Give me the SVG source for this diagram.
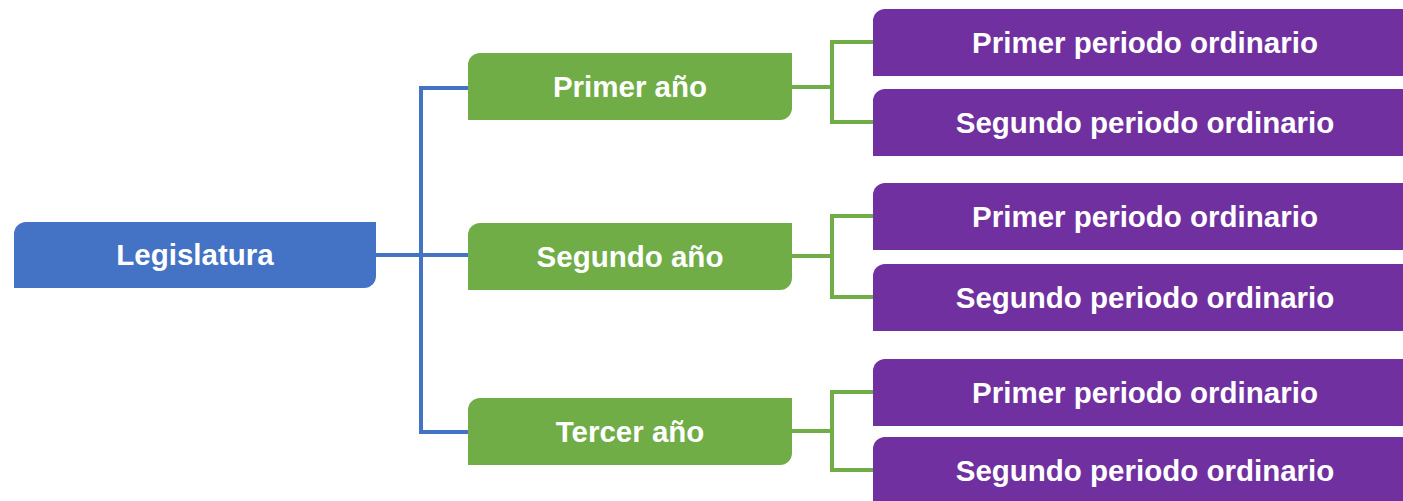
<svg xmlns="http://www.w3.org/2000/svg" width="1403" height="501" viewBox="0 0 1403 501">
<style>
.t{font-family:"Liberation Sans",Arial,sans-serif;font-weight:bold;font-size:29.5px;fill:#fff;text-anchor:middle}
.blue{fill:#4472C4}.green{fill:#70AD47}.purple{fill:#7030A0}
.cb{fill:none;stroke:#4472C4;stroke-width:4}
.cg{fill:none;stroke:#70AD47;stroke-width:4}
</style>
<rect width="1403" height="501" fill="#fff"/>
<g id="connectors">
<path class="cb" d="M469,88 H421 V432 H469 M376,255 H469"/>
<path class="cg" d="M792,87 H832 M873,42 H832 V122 H873"/>
<path class="cg" d="M792,256 H832 M873,216 H832 V297 H873"/>
<path class="cg" d="M792,431 H832 M873,392 H832 V470 H873"/>
</g>
<g id="legislatura">
<path class="blue" d="M26,222 H376 V276 A12,12 0 0 1 364,288 H14 V234 A12,12 0 0 1 26,222 Z"/>
<text class="t" x="195" y="265">Legislatura</text>
</g>
<g id="primer-anio">
<path class="green" d="M480,53 H792 V108 A12,12 0 0 1 780,120 H468 V65 A12,12 0 0 1 480,53 Z"/>
<text class="t" x="630" y="97">Primer año</text>
</g>
<g id="segundo-anio">
<path class="green" d="M480,223 H792 V278 A12,12 0 0 1 780,290 H468 V235 A12,12 0 0 1 480,223 Z"/>
<text class="t" x="630" y="267">Segundo año</text>
</g>
<g id="tercer-anio">
<path class="green" d="M480,398 H792 V453 A12,12 0 0 1 780,465 H468 V410 A12,12 0 0 1 480,398 Z"/>
<text class="t" x="630" y="442">Tercer año</text>
</g>
<g id="p1-primer">
<path class="purple" d="M885,9 H1416 V64 A12,12 0 0 1 1404,76 H873 V21 A12,12 0 0 1 885,9 Z"/>
<text class="t" x="1145" y="53">Primer periodo ordinario</text>
</g>
<g id="p1-segundo">
<path class="purple" d="M885,89 H1416 V144 A12,12 0 0 1 1404,156 H873 V101 A12,12 0 0 1 885,89 Z"/>
<text class="t" x="1145" y="133">Segundo periodo ordinario</text>
</g>
<g id="p2-primer">
<path class="purple" d="M885,183 H1416 V238 A12,12 0 0 1 1404,250 H873 V195 A12,12 0 0 1 885,183 Z"/>
<text class="t" x="1145" y="227">Primer periodo ordinario</text>
</g>
<g id="p2-segundo">
<path class="purple" d="M885,264 H1416 V319 A12,12 0 0 1 1404,331 H873 V276 A12,12 0 0 1 885,264 Z"/>
<text class="t" x="1145" y="308">Segundo periodo ordinario</text>
</g>
<g id="p3-primer">
<path class="purple" d="M885,359 H1416 V414 A12,12 0 0 1 1404,426 H873 V371 A12,12 0 0 1 885,359 Z"/>
<text class="t" x="1145" y="403">Primer periodo ordinario</text>
</g>
<g id="p3-segundo">
<path class="purple" d="M885,437 H1416 V492 A12,12 0 0 1 1404,504 H873 V449 A12,12 0 0 1 885,437 Z"/>
<text class="t" x="1145" y="481">Segundo periodo ordinario</text>
</g>
</svg>
